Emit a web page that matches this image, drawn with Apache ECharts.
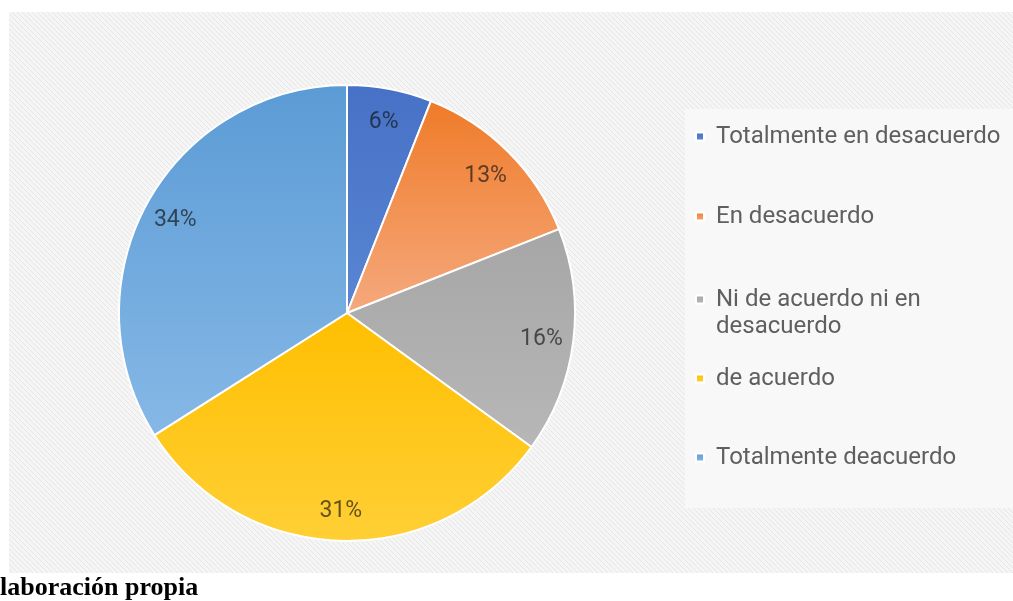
<!DOCTYPE html>
<html>
<head>
<meta charset="utf-8">
<script src="https://cdn.jsdelivr.net/npm/echarts@6/dist/echarts.min.js"></script>
<style>html,body{margin:0;padding:0;background:#fff}#c{width:1013px;height:601px}</style>
</head>
<body>
<div id="c"></div>
<script>
const categories = ['Totalmente en desacuerdo', 'En desacuerdo', 'Ni de acuerdo ni en desacuerdo', 'de acuerdo', 'Totalmente deacuerdo'];
const values = [6, 13, 16, 31, 34];
const sourceNote = 'laboración propia';

const colorsTop = ['#4671C6', '#EF7B28', '#A6A6A6', '#FFBF00', '#5B9BD5'];
const colorsBottom = ['#5A86D4', '#F5A97E', '#B7B7B7', '#FFCF35', '#86B8E6'];

function grad(i) {
  return { type: 'linear', x: 0, y: 0, x2: 0, y2: 1,
    colorStops: [{ offset: 0, color: colorsTop[i] }, { offset: 1, color: colorsBottom[i] }] };
}

// hatch pattern
const pc = document.createElement('canvas');
pc.width = 5; pc.height = 5;
const g = pc.getContext('2d');
g.fillStyle = '#f5f5f5'; g.fillRect(0, 0, 5, 5);
g.strokeStyle = '#e6e6e6'; g.lineWidth = 1;
for (let k = -5; k <= 10; k += 5) {
  g.beginPath(); g.moveTo(k, 0); g.lineTo(k + 5, 5); g.stroke();
}

const chart = echarts.init(document.getElementById('c'), null, { renderer: 'canvas' });

const mainData = categories.map((n, i) => ({ name: n, value: values[i], itemStyle: { color: grad(i) } }));
const labelData = categories.map((n, i) => ({ name: n, value: values[i] }));

const legendTops = [123, 203, 259, 365, 444];
const legends = categories.map((n, i) => ({
  data: [n],
  left: 695, top: legendTops[i], padding: 0,
  icon: 'rect', itemWidth: 8, itemHeight: 8,
  formatter: function (name) { return name === 'Ni de acuerdo ni en desacuerdo' ? ' \nNi de acuerdo ni en\ndesacuerdo' : name; },
  selectedMode: false,
  textStyle: {
    fontFamily: 'Roboto', fontSize: 24, color: '#5f5f5f',
    lineHeight: 27,
    padding: [0, 0, 0, 7]
  }
}));

chart.setOption({
  animation: false,
  backgroundColor: '#ffffff',
  graphic: [
    { type: 'rect', z: -10, silent: true, shape: { x: 9, y: 12, width: 1004, height: 561 }, style: { fill: { image: pc, repeat: 'repeat' } } },
    { type: 'rect', z: -9, silent: true, shape: { x: 685, y: 109, width: 328, height: 399 }, style: { fill: '#f8f8f8' } },
    { type: 'text', z: 10, left: 0, top: 575, style: { text: sourceNote, font: 'bold 26px "Liberation Serif"', fill: '#000' } }
  ],
  legend: legends,
  series: [
    {
      type: 'pie', center: [347, 313], radius: [0, 228], startAngle: 90, clockwise: true,
      silent: true,
      itemStyle: { borderColor: '#ffffff', borderWidth: 2 },
      label: { show: false }, labelLine: { show: false },
      data: mainData
    },
    {
      type: 'pie', center: [347, 315], radius: [158, 228], startAngle: 90, clockwise: true,
      silent: true, z: 5,
      itemStyle: { color: 'rgba(0,0,0,0)', borderWidth: 0 },
      label: { show: true, position: 'inside', formatter: '{c}%', fontFamily: 'Roboto', fontSize: 23, color: 'rgba(20,20,20,0.68)' },
      labelLine: { show: false },
      data: labelData
    }
  ]
});
</script>
</body>
</html>
